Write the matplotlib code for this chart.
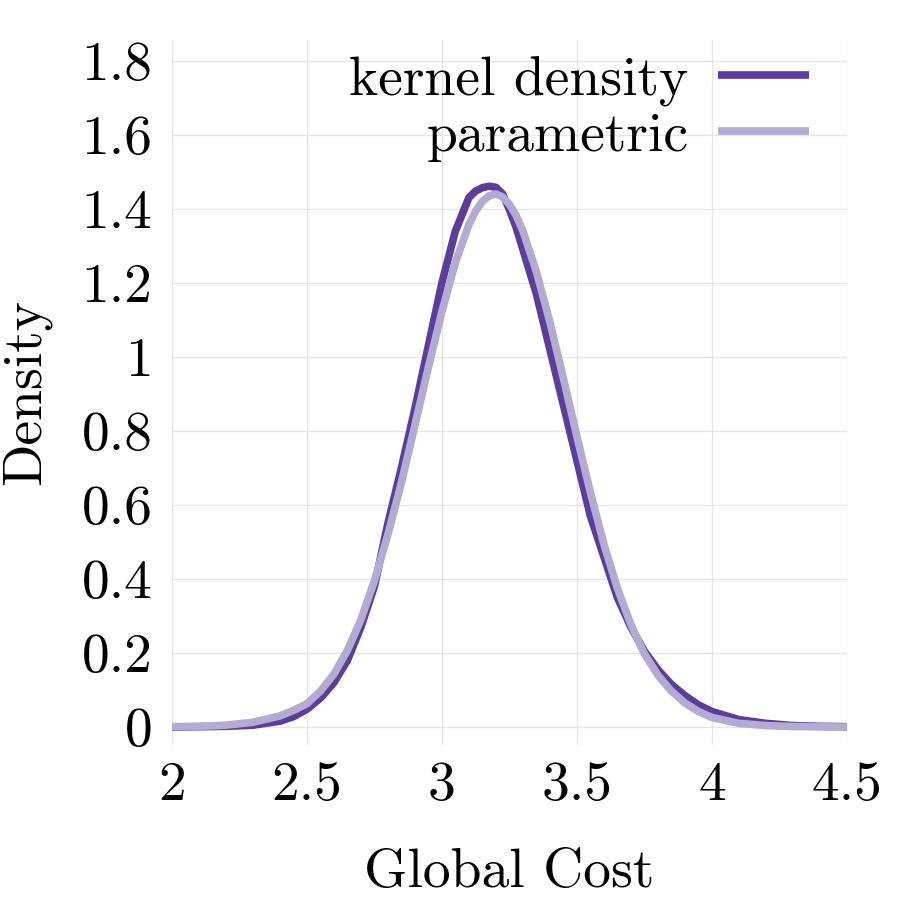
import matplotlib
matplotlib.use("Agg")
import matplotlib.pyplot as plt

plt.rcParams['font.family'] = ['cmr10', 'DejaVu Serif']
plt.rcParams['mathtext.fontset'] = 'cm'
plt.rcParams['axes.unicode_minus'] = False
plt.rcParams['axes.formatter.use_mathtext'] = True

# kernel density curve
kde_x = [2.0, 2.1, 2.2, 2.3, 2.4, 2.45, 2.5, 2.55, 2.6, 2.65, 2.7, 2.75, 2.8, 2.85, 2.9, 2.95,
         3.0, 3.05, 3.1, 3.125, 3.15, 3.175, 3.2, 3.225, 3.25, 3.275, 3.3, 3.35, 3.4, 3.45,
         3.5, 3.55, 3.6, 3.65, 3.7, 3.75, 3.8, 3.85, 3.9, 3.95, 4.0, 4.1, 4.2, 4.3, 4.4, 4.5]
kde_y = [0.0, 0.001, 0.002, 0.005, 0.016, 0.028, 0.048, 0.078, 0.12, 0.18, 0.27, 0.38, 0.55, 0.70, 0.86, 1.03,
         1.2, 1.34, 1.43, 1.448, 1.457, 1.461, 1.458, 1.44, 1.398, 1.35, 1.29, 1.17, 1.02, 0.87,
         0.72, 0.57, 0.46, 0.35, 0.27, 0.205, 0.155, 0.115, 0.085, 0.06, 0.042, 0.02, 0.01, 0.004, 0.002, 0.001]

# parametric curve
par_x = [2.0, 2.1, 2.2, 2.3, 2.4, 2.45, 2.5, 2.55, 2.6, 2.65, 2.7, 2.75, 2.8, 2.85, 2.9, 2.95,
         3.0, 3.05, 3.1, 3.125, 3.15, 3.175, 3.2, 3.225, 3.25, 3.275, 3.3, 3.35, 3.4, 3.45,
         3.5, 3.55, 3.6, 3.65, 3.7, 3.75, 3.8, 3.85, 3.9, 3.95, 4.0, 4.1, 4.2, 4.3, 4.5]
par_y = [0.001, 0.002, 0.005, 0.013, 0.03, 0.045, 0.063, 0.097, 0.143, 0.207, 0.29, 0.395, 0.52, 0.66, 0.815, 0.972,
         1.122, 1.255, 1.357, 1.394, 1.42, 1.435, 1.44, 1.432, 1.412, 1.382, 1.34, 1.23, 1.094, 0.942,
         0.785, 0.634, 0.494, 0.375, 0.277, 0.198, 0.14, 0.097, 0.065, 0.042, 0.026, 0.01, 0.004, 0.0015, 0.0]

x_ticks = [2, 2.5, 3, 3.5, 4, 4.5]
x_tick_labels = ['2', '2.5', '3', '3.5', '4', '4.5']
y_ticks = [0, 0.2, 0.4, 0.6, 0.8, 1.0, 1.2, 1.4, 1.6, 1.8]
y_tick_labels = ['0', '0.2', '0.4', '0.6', '0.8', '1', '1.2', '1.4', '1.6', '1.8']

dark = '#5e3c99'
light = '#b2abd2'
fs = 40

fig = plt.figure(figsize=(9, 9), dpi=100)
ax = fig.add_axes([0.191, 0.172, 0.750, 0.784])

ax.plot(kde_x, kde_y, color=dark, lw=5.5, label='kernel density',
        solid_capstyle='butt', solid_joinstyle='round', zorder=3)
ax.plot(par_x, par_y, color=light, lw=5.5, label='parametric',
        solid_capstyle='butt', solid_joinstyle='round', zorder=4)

ax.set_xlim(2, 4.5)
ax.set_ylim(-0.049, 1.857)
ax.set_xticks(x_ticks)
ax.set_xticklabels(x_tick_labels)
ax.set_yticks(y_ticks)
ax.set_yticklabels(y_tick_labels)
ax.tick_params(axis='both', length=0, labelsize=fs)
ax.tick_params(axis='x', pad=12)
ax.tick_params(axis='y', pad=14)
for s in ax.spines.values():
    s.set_visible(False)
ax.grid(True, color='#e6e6e6', lw=1.0, zorder=0)
ax.set_axisbelow(True)

ax.set_xlabel('Global Cost', fontsize=fs, labelpad=27)
ax.set_ylabel('Density', fontsize=fs, labelpad=22)

leg = ax.legend(loc='upper right', bbox_to_anchor=(0.952, 0.985), frameon=False,
                markerfirst=False, fontsize=fs, handlelength=1.64, handletextpad=0.53,
                labelspacing=0.1, borderaxespad=0.0, borderpad=0.1)

fig.savefig('out.png', dpi=100)
